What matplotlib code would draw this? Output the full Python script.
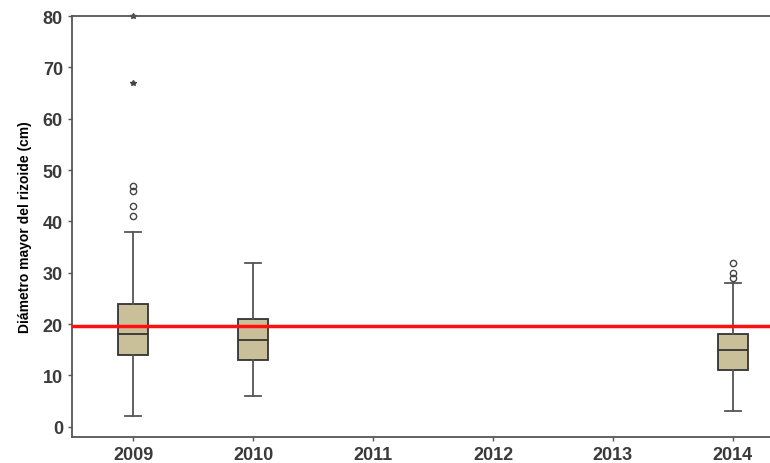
import matplotlib.pyplot as plt

years = [2009, 2010, 2011, 2012, 2013, 2014]
box_years = [2009, 2010, 2014]
whislo = [2, 6, 3]
q1 = [14, 13, 11]
med = [18, 17, 15]
q3 = [24, 21, 18]
whishi = [38, 32, 28]
outliers = [[41, 43, 46, 47], [], [29, 30, 32]]
extremes = [[67, 80], [], []]
reference = 19.7

plt.rcParams['font.family'] = ['Liberation Sans', 'DejaVu Sans']

fig = plt.figure(figsize=(7.7, 4.64), dpi=100)
ax = fig.add_axes([0.0935, 0.056, 0.9065, 0.907])

stats = []
for i in range(len(box_years)):
    stats.append({'whislo': whislo[i], 'q1': q1[i], 'med': med[i],
                  'q3': q3[i], 'whishi': whishi[i], 'fliers': []})

ax.bxp(stats, positions=box_years, widths=0.25, showfliers=False,
       patch_artist=True,
       boxprops=dict(facecolor='#c9c09a', edgecolor='#333333', linewidth=1.3),
       medianprops=dict(color='#333333', linewidth=1.3),
       whiskerprops=dict(color='#555555', linewidth=1.3),
       capprops=dict(color='#555555', linewidth=1.3),
       capwidths=0.13)

for x, vals in zip(box_years, outliers):
    ax.plot([x] * len(vals), vals, 'o', mfc='none', mec='#444444', ms=4.5, mew=1)
for x, vals in zip(box_years, extremes):
    ax.plot([x] * len(vals), vals, '*', color='#444444', ms=4, clip_on=False)

ax.axhline(reference, color='#ff1010', linewidth=2.5, zorder=5)

ax.set_xlim(2008.49, 2014.31)
ax.set_ylim(-2, 80)
ax.set_xticks(years)
ax.set_xticklabels([str(y) for y in years])
ax.set_yticks(range(0, 81, 10))
ax.tick_params(axis='both', labelsize=13, labelcolor='#3a3a3a', color='#555555',
               length=3, width=1)
for lab in ax.get_xticklabels() + ax.get_yticklabels():
    lab.set_fontweight('bold')
ax.spines['right'].set_visible(False)
for s in ['left', 'bottom', 'top']:
    ax.spines[s].set_color('#555555')
    ax.spines[s].set_linewidth(1.3)

ax.set_ylabel('Diámetro mayor del rizoide (cm)', fontsize=10, fontweight='bold',
              labelpad=8)

fig.savefig('out.png', dpi=100)
